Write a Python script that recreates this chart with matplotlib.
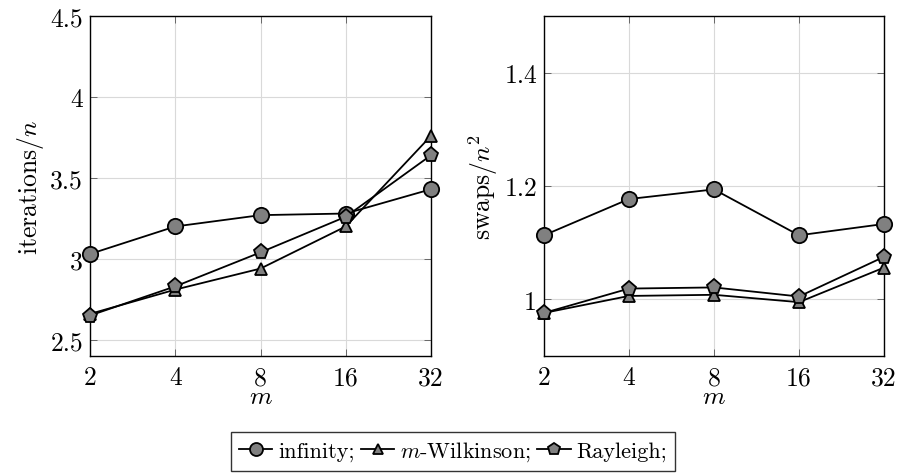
import matplotlib
matplotlib.use('Agg')
import matplotlib.pyplot as plt

plt.rcParams['font.family'] = 'cmr10'
plt.rcParams['mathtext.fontset'] = 'cm'
plt.rcParams['axes.unicode_minus'] = False
plt.rcParams['axes.formatter.use_mathtext'] = True

# dane
m = [2, 4, 8, 16, 32]
iter_inf = [3.03, 3.20, 3.27, 3.28, 3.43]
iter_wilk = [2.66, 2.81, 2.94, 3.20, 3.76]
iter_ray = [2.65, 2.83, 3.04, 3.26, 3.64]
swap_inf = [1.113, 1.177, 1.194, 1.113, 1.133]
swap_wilk = [0.976, 1.006, 1.008, 0.995, 1.056]
swap_ray = [0.976, 1.019, 1.021, 1.005, 1.075]

names = ['infinity;', '$m$-Wilkinson;', 'Rayleigh;']
markers = ['o', '^', 'p']
msizes = [11, 9, 11]

left_yticks = [2.5, 3, 3.5, 4, 4.5]
left_ylabels = ['2.5', '3', '3.5', '4', '4.5']
right_yticks = [1, 1.2, 1.4]
right_ylabels = ['1', '1.2', '1.4']

fs = 18.5
fig = plt.figure(figsize=(9.01, 4.77), dpi=100)
ax1 = fig.add_axes([90/901, 1-357/477, 341/901, 340/477])
ax2 = fig.add_axes([544/901, 1-357/477, 340/901, 340/477])


def draw(ax, series, ylim, yt, ytl, ylabel):
    handles = []
    for ys, mk, ms, nm in zip(series, markers, msizes, names):
        h, = ax.plot(m, ys, color='black', lw=1.3, marker=mk, ms=ms,
                     mfc='#808080', mec='black', mew=1.3, label=nm, clip_on=False,
                     zorder=3)
        handles.append(h)
    ax.set_xscale('log', base=2)
    ax.set_xlim(2, 32)
    ax.set_ylim(*ylim)
    ax.set_xticks(m)
    ax.set_xticklabels([str(v) for v in m], fontsize=fs)
    ax.minorticks_off()
    ax.set_yticks(yt)
    ax.set_yticklabels(ytl, fontsize=fs)
    ax.grid(True, color='#d9d9d9', lw=0.8)
    ax.set_axisbelow(True)
    ax.tick_params(direction='in', top=True, right=True, length=5,
                   color='#555555', width=0.6)
    ax.tick_params(axis='x', pad=7)
    ax.tick_params(axis='y', pad=5)
    for s in ax.spines.values():
        s.set_linewidth(1.0)
    ax.set_xlabel('$m$', fontsize=fs, labelpad=-4)
    ax.set_ylabel(ylabel, fontsize=fs, labelpad=3)
    return handles


hs = draw(ax1, [iter_inf, iter_wilk, iter_ray], (2.4, 4.5),
          left_yticks, left_ylabels, 'iterations/$n$')
draw(ax2, [swap_inf, swap_wilk, swap_ray], (0.9, 1.5),
     right_yticks, right_ylabels, 'swaps/$n^2$')

leg = fig.legend(handles=hs, loc='upper center', ncol=3,
                 bbox_to_anchor=(453/901, 1-433/477), fontsize=16,
                 frameon=True, fancybox=False, edgecolor='black',
                 handlelength=1.5, handletextpad=0.25, columnspacing=0.3,
                 borderpad=0.35, borderaxespad=0, markerscale=0.85)
leg.get_frame().set_linewidth(1.0)

fig.savefig('out.png', dpi=100)
